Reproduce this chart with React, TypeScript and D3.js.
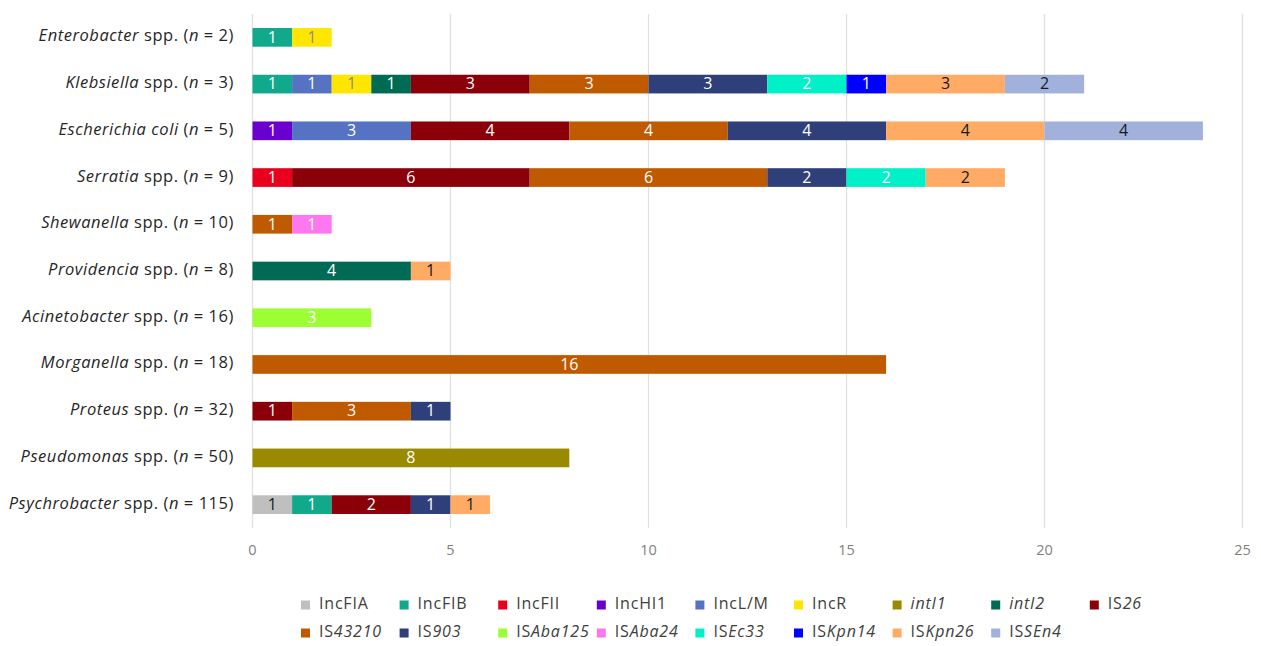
import * as d3 from "d3";

const GENES = [
  "IncFIA", "IncFIB", "IncFII", "IncHI1", "IncL/M", "IncR", "intI1", "intI2", "IS26",
  "IS43210", "IS903", "ISAba125", "ISAba24", "ISEc33", "ISKpn14", "ISKpn26", "ISSEn4",
];

const COLORS = [
  "#bfbfbf", "#10a98b", "#e8001c", "#6a00d0", "#5672c2", "#ffe600", "#9a8a00", "#006b55", "#8b0008",
  "#c05a00", "#2e3f7a", "#9cff33", "#ff77ee", "#00f0c8", "#0000ff", "#ffab66", "#a1b1dc",
];

// label colour inside bar segments
const LABEL_COLORS = [
  "#1a1a1a", "#fff", "#fff", "#fff", "#fff", "#8c8c8c", "#fff", "#fff", "#fff",
  "#fff", "#fff", "#fff", "#fff", "#fff", "#fff", "#1a1a1a", "#1a1a1a",
];

// genus part (italic), rest (upright), n
const GENUS = [
  "Enterobacter", "Klebsiella", "Escherichia coli", "Serratia", "Shewanella", "Providencia",
  "Acinetobacter", "Morganella", "Proteus", "Pseudomonas", "Psychrobacter",
];
const SPP = [" spp.", " spp.", "", " spp.", " spp.", " spp.", " spp.", " spp.", " spp.", " spp.", " spp."];
const N = [2, 3, 5, 9, 10, 8, 16, 18, 32, 50, 115];

// counts per category, in GENES order
const COUNTS: number[][] = [
  [0, 1, 0, 0, 0, 1, 0, 0, 0, 0, 0, 0, 0, 0, 0, 0, 0],
  [0, 1, 0, 0, 1, 1, 0, 1, 3, 3, 3, 0, 0, 2, 1, 3, 2],
  [0, 0, 0, 1, 3, 0, 0, 0, 4, 4, 4, 0, 0, 0, 0, 4, 4],
  [0, 0, 1, 0, 0, 0, 0, 0, 6, 6, 2, 0, 0, 2, 0, 2, 0],
  [0, 0, 0, 0, 0, 0, 0, 0, 0, 1, 0, 0, 1, 0, 0, 0, 0],
  [0, 0, 0, 0, 0, 0, 0, 4, 0, 0, 0, 0, 0, 0, 0, 1, 0],
  [0, 0, 0, 0, 0, 0, 0, 0, 0, 0, 0, 3, 0, 0, 0, 0, 0],
  [0, 0, 0, 0, 0, 0, 0, 0, 0, 16, 0, 0, 0, 0, 0, 0, 0],
  [0, 0, 0, 0, 0, 0, 0, 0, 1, 3, 1, 0, 0, 0, 0, 0, 0],
  [0, 0, 0, 0, 0, 0, 8, 0, 0, 0, 0, 0, 0, 0, 0, 0, 0],
  [1, 1, 0, 0, 0, 0, 0, 0, 2, 0, 1, 0, 0, 0, 0, 1, 0],
];

const X_TICKS = [0, 5, 10, 15, 20, 25];

const WIDTH = 1261;
const HEIGHT = 646;
const FONT = "'Open Sans', sans-serif";

// split legend names into upright / italic parts
function legendParts(name: string): { t: string; it: boolean }[] {
  if (name.startsWith("int")) return [{ t: name, it: true }];
  if (name.startsWith("IS")) return [{ t: "IS", it: false }, { t: name.slice(2), it: true }];
  return [{ t: name, it: false }];
}

export default function App() {
  const x = d3.scaleLinear().domain([0, 25]).range([252.5, 1242.5]);
  const y = d3
    .scaleBand<number>()
    .domain(d3.range(GENUS.length))
    .range([14, 528])
    .paddingInner(0.6)
    .paddingOuter(0.3);

  const rows = COUNTS.map((c) => {
    const o: Record<string, number> = {};
    GENES.forEach((g, i) => (o[g] = c[i]));
    return o;
  });
  const series = d3.stack<Record<string, number>>().keys(GENES)(rows);

  const colW = 98.6;
  const legendX0 = 301;

  return (
    <div style={{ position: "absolute", left: 0, top: 0 }}>
      <svg width={WIDTH} height={HEIGHT} style={{ display: "block", background: "#fff" }} fontFamily={FONT}>
        {/* gridlines */}
        {X_TICKS.map((t) => (
          <line key={t} x1={x(t)} x2={x(t)} y1={14} y2={528} stroke="#e0e0e0" strokeWidth={1.3} />
        ))}
        {X_TICKS.map((t) => (
          <text key={"t" + t} x={x(t)} y={551} textAnchor="middle" fontSize={14.5} fill="#7f7f7f" dominantBaseline="middle">
            {t}
          </text>
        ))}

        {/* y labels */}
        {GENUS.map((g, i) => (
          <text
            key={g}
            x={234}
            y={y(i)! + y.bandwidth() / 2}
            textAnchor="end"
            dominantBaseline="middle"
            fontSize={16.5}
            letterSpacing={0.55}
            fill="#262626"
          >
            <tspan fontStyle="italic">{g}</tspan>
            <tspan>{SPP[i] + " ("}</tspan>
            <tspan fontStyle="italic">n</tspan>
            <tspan>{" = " + N[i] + ")"}</tspan>
          </text>
        ))}

        {/* bars */}
        {series.map((s, gi) => (
          <g key={s.key}>
            {s.map((d, ci) => {
              const v = d[1] - d[0];
              if (!v) return null;
              const x0 = x(d[0]);
              const x1 = x(d[1]);
              const yy = y(ci)!;
              return (
                <g key={ci}>
                  <rect x={x0} y={yy} width={x1 - x0} height={y.bandwidth()} fill={COLORS[gi]} />
                  <text
                    x={(x0 + x1) / 2}
                    y={yy + y.bandwidth() / 2 + 1}
                    textAnchor="middle"
                    dominantBaseline="middle"
                    fontSize={16}
                    fill={LABEL_COLORS[gi]}
                  >
                    {v}
                  </text>
                </g>
              );
            })}
          </g>
        ))}

        {/* legend */}
        {GENES.map((g, i) => {
          const row = i < 9 ? 0 : 1;
          const col = i < 9 ? i : i - 9;
          const lx = legendX0 + col * colW;
          const ly = row === 0 ? 605 : 633;
          return (
            <g key={g}>
              <rect x={lx} y={ly - 4.5} width={9} height={9} fill={COLORS[i]} />
              <text x={lx + 18} y={ly} dominantBaseline="middle" fontSize={16} letterSpacing={0.8} fill="#404040">
                {legendParts(g).map((p, k) => (
                  <tspan key={k} fontStyle={p.it ? "italic" : "normal"}>
                    {p.t}
                  </tspan>
                ))}
              </text>
            </g>
          );
        })}
      </svg>
    </div>
  );
}
